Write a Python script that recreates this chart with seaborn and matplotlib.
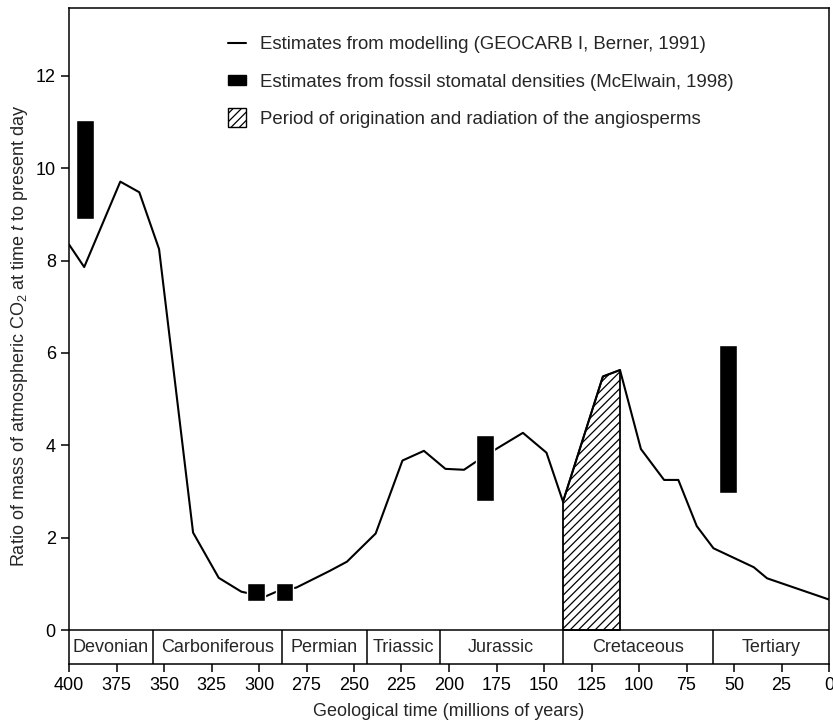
import numpy as np
import pandas as pd
import seaborn as sns
import matplotlib
matplotlib.use("Agg")
import matplotlib.pyplot as plt
from matplotlib.lines import Line2D
from matplotlib.patches import Patch, Rectangle
from matplotlib.legend_handler import HandlerPatch

# ---- data ----
model_age = [400, 392, 373, 363, 352.6, 334.7, 321.2, 309.3, 297, 290.8, 280.3,
             262.8, 253.7, 238.6, 224.5, 213.2, 201.9, 192.1, 185.6, 176.8,
             161.1, 148.7, 140, 119, 110, 99, 86.8, 79.3, 69.6, 60.8,
             39.6, 32.6, 0]
model_ratio = [8.35, 7.86, 9.71, 9.48, 8.25, 2.11, 1.13, 0.83, 0.72, 0.83, 0.92,
               1.28, 1.48, 2.09, 3.67, 3.88, 3.49, 3.47, 3.65, 3.88,
               4.27, 3.84, 2.78, 5.49, 5.63, 3.92, 3.25, 3.25, 2.25, 1.77,
               1.36, 1.12, 0.66]

fossil_age = [391.7, 301.7, 286.5, 181.2, 53.3]
fossil_low = [8.90, 0.63, 0.63, 2.80, 2.97]
fossil_high = [11.05, 1.01, 1.01, 4.22, 6.17]

angio_start, angio_end = 140, 110

period_names = ["Devonian", "Carboniferous", "Permian", "Triassic",
                "Jurassic", "Cretaceous", "Tertiary"]
period_bounds = [400, 356, 288, 243, 205, 140, 61, 0]

x_ticks = [400, 375, 350, 325, 300, 275, 250, 225, 200, 175, 150, 125, 100, 75, 50, 25, 0]
y_ticks = [0, 2, 4, 6, 8, 10, 12]

legend_labels = ["Estimates from modelling (GEOCARB I, Berner, 1991)",
                 "Estimates from fossil stomatal densities (McElwain, 1998)",
                 "Period of origination and radiation of the angiosperms"]

# ---- style ----
sns.set_theme(style="ticks")
plt.rcParams["font.family"] = ["Liberation Sans", "DejaVu Sans"]
plt.rcParams["mathtext.fontset"] = "custom"
plt.rcParams["mathtext.rm"] = "Liberation Sans"
plt.rcParams["mathtext.it"] = "Liberation Sans:italic"
plt.rcParams["hatch.linewidth"] = 0.9
plt.rcParams["axes.linewidth"] = 1.1

fig = plt.figure(figsize=(8.33, 7.25), dpi=100)
ax = fig.add_axes([69 / 833, 1 - 664 / 725, 760 / 833, 656 / 725])

df_model = pd.DataFrame({"age": model_age, "ratio": model_ratio})
df_fossil = pd.DataFrame({"age": fossil_age, "low": fossil_low, "high": fossil_high})

# hatched angiosperm period under the curve
mask = (df_model["age"] <= angio_start) & (df_model["age"] >= angio_end)
sub = df_model[mask]
ax.fill_between(sub["age"], 0, sub["ratio"], facecolor="white",
                edgecolor="black", hatch="////", linewidth=1.3, zorder=2)

# modelled curve
sns.lineplot(data=df_model, x="age", y="ratio", color="black", linewidth=1.5,
             sort=False, ax=ax, zorder=3)

# fossil stomatal estimates
ax.bar(df_fossil["age"], df_fossil["high"] - df_fossil["low"],
       bottom=df_fossil["low"], width=9.3, color="black", zorder=4)

ymin = -0.736
ax.set_xlim(400, 0)
ax.set_ylim(ymin, 13.47)
ax.set_xticks(x_ticks)
ax.set_yticks(y_ticks)
ax.tick_params(axis="both", direction="out", length=6, width=1.1,
               labelsize=13, colors="black")
for s in ax.spines.values():
    s.set_color("black")
    s.set_visible(True)

# geological period band
ax.axhline(0, color="black", linewidth=1.1, zorder=5)
ax.vlines(period_bounds[1:-1], ymin, 0, color="black", linewidth=1.1, zorder=5)
for i, name in enumerate(period_names):
    xc = (period_bounds[i] + period_bounds[i + 1]) / 2
    ax.text(xc, ymin / 2, name, ha="center", va="center", fontsize=13)

ax.set_xlabel("Geological time (millions of years)", fontsize=13, labelpad=6)
ax.set_ylabel("Ratio of mass of atmospheric CO$_2$ at time $t$ to present day",
              fontsize=13, labelpad=4)


def rect_patch(legend, orig_handle, xdescent, ydescent, width, height, fontsize):
    h = height * 0.77
    return Rectangle((-xdescent, -ydescent + (height - h) / 2), width, h)


def square_patch(legend, orig_handle, xdescent, ydescent, width, height, fontsize):
    s = height * 1.4
    return Rectangle((-xdescent, -ydescent + (height - s) / 2), s, s)


handles = [Line2D([], [], color="black", linewidth=1.5),
           Patch(facecolor="black", edgecolor="black"),
           Patch(facecolor="white", edgecolor="black", hatch="////", linewidth=1.0)]
leg = ax.legend(handles, legend_labels, loc="upper left",
                bbox_to_anchor=((228 - 69) / 760, 1 - (36 - 8) / 656),
                frameon=False, fontsize=13.4, handlelength=0.97,
                handletextpad=0.75, labelspacing=1.1, borderpad=0, borderaxespad=0,
                handler_map={handles[1]: HandlerPatch(patch_func=rect_patch),
                             handles[2]: HandlerPatch(patch_func=square_patch)})

fig.savefig("out.png", dpi=100)
